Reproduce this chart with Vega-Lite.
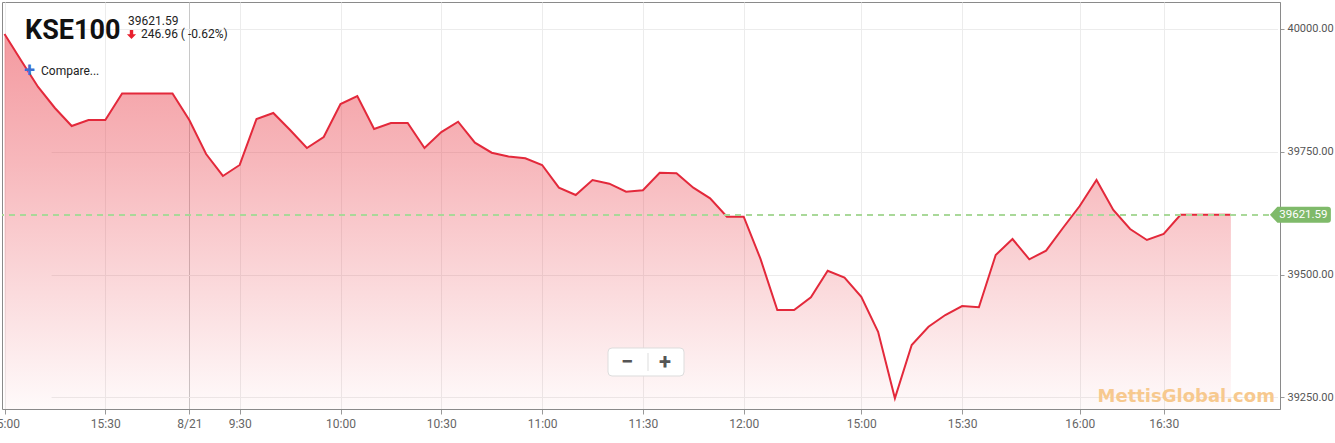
{
  "$schema": "https://vega.github.io/schema/vega-lite/v6.json",
  "width": 1278,
  "height": 407,
  "autosize": {"type": "none"},
  "padding": {"left": 2, "top": 2, "right": 55, "bottom": 34},
  "background": "white",
  "config": {
    "font": "Roboto",
    "view": {"stroke": "#8a8a8a", "strokeWidth": 1}
  },
  "datasets": {
    "kse": [
      {"time": "8/20 15:00", "index": 39989.4},
      {"time": "8/20 15:05", "index": 39935.0},
      {"time": "8/20 15:10", "index": 39881.6},
      {"time": "8/20 15:15", "index": 39838.9},
      {"time": "8/20 15:20", "index": 39802.3},
      {"time": "8/20 15:25", "index": 39814.5},
      {"time": "8/20 15:30", "index": 39814.5},
      {"time": "8/20 15:35", "index": 39868.55},
      {"time": "8/20 15:40", "index": 39868.55},
      {"time": "8/20 15:45", "index": 39868.55},
      {"time": "8/20 15:50", "index": 39868.55},
      {"time": "8/21 9:15", "index": 39814.5},
      {"time": "8/21 9:20", "index": 39745.3},
      {"time": "8/21 9:25", "index": 39700.6},
      {"time": "8/21 9:30", "index": 39723.0},
      {"time": "8/21 9:35", "index": 39816.5},
      {"time": "8/21 9:40", "index": 39828.7},
      {"time": "8/21 9:45", "index": 39794.1},
      {"time": "8/21 9:50", "index": 39757.5},
      {"time": "8/21 9:55", "index": 39779.9},
      {"time": "8/21 10:00", "index": 39847.0},
      {"time": "8/21 10:05", "index": 39863.3},
      {"time": "8/21 10:10", "index": 39796.2},
      {"time": "8/21 10:15", "index": 39808.4},
      {"time": "8/21 10:20", "index": 39808.4},
      {"time": "8/21 10:25", "index": 39757.5},
      {"time": "8/21 10:30", "index": 39790.0},
      {"time": "8/21 10:35", "index": 39811.0},
      {"time": "8/21 10:40", "index": 39768.3},
      {"time": "8/21 10:45", "index": 39747.9},
      {"time": "8/21 10:50", "index": 39740.2},
      {"time": "8/21 10:55", "index": 39736.6},
      {"time": "8/21 11:00", "index": 39722.9},
      {"time": "8/21 11:05", "index": 39676.8},
      {"time": "8/21 11:10", "index": 39661.9},
      {"time": "8/21 11:15", "index": 39692.4},
      {"time": "8/21 11:20", "index": 39684.9},
      {"time": "8/21 11:25", "index": 39668.6},
      {"time": "8/21 11:30", "index": 39671.5},
      {"time": "8/21 11:35", "index": 39707.3},
      {"time": "8/21 11:40", "index": 39706.0},
      {"time": "8/21 11:45", "index": 39676.8},
      {"time": "8/21 11:50", "index": 39655.2},
      {"time": "8/21 11:55", "index": 39617.8},
      {"time": "8/21 12:00", "index": 39617.8},
      {"time": "8/21 14:30", "index": 39532.0},
      {"time": "8/21 14:35", "index": 39427.9},
      {"time": "8/21 14:40", "index": 39427.9},
      {"time": "8/21 14:45", "index": 39453.8},
      {"time": "8/21 14:50", "index": 39507.9},
      {"time": "8/21 14:55", "index": 39493.7},
      {"time": "8/21 15:00", "index": 39455.0},
      {"time": "8/21 15:05", "index": 39383.8},
      {"time": "8/21 15:10", "index": 39248.3},
      {"time": "8/21 15:15", "index": 39356.8},
      {"time": "8/21 15:20", "index": 39394.0},
      {"time": "8/21 15:25", "index": 39417.8},
      {"time": "8/21 15:30", "index": 39436.1},
      {"time": "8/21 15:35", "index": 39433.5},
      {"time": "8/21 15:40", "index": 39540.0},
      {"time": "8/21 15:45", "index": 39572.4},
      {"time": "8/21 15:50", "index": 39531.1},
      {"time": "8/21 15:55", "index": 39548.6},
      {"time": "8/21 15:58", "index": 39594.8},
      {"time": "8/21 16:00", "index": 39639.5},
      {"time": "8/21 16:06", "index": 39692.4},
      {"time": "8/21 16:12", "index": 39631.4},
      {"time": "8/21 16:18", "index": 39592.8},
      {"time": "8/21 16:24", "index": 39570.4},
      {"time": "8/21 16:30", "index": 39582.6},
      {"time": "8/21 16:35", "index": 39621.59},
      {"time": "8/21 16:40", "index": 39621.59},
      {"time": "8/21 16:45", "index": 39621.59},
      {"time": "8/21 16:50", "index": 39621.59}
    ]
  },
  "data": {"name": "kse"},
  "layer": [
    {
      "mark": {
        "type": "area",
        "fill": {
          "gradient": "linear",
          "x1": 0, "y1": 0, "x2": 0, "y2": 1,
          "stops": [
            {"offset": 0, "color": "rgba(232,48,60,0.49)"},
            {"offset": 0.35, "color": "rgba(232,48,60,0.34)"},
            {"offset": 0.7, "color": "rgba(232,48,60,0.17)"},
            {"offset": 1, "color": "rgba(232,48,60,0.025)"}
          ]
        },
        "fillOpacity": 1
      },
      "encoding": {
        "x": {
          "field": "time",
          "type": "ordinal",
          "sort": null,
          "scale": {"type": "point", "range": [2.5, 1228.9], "padding": 0},
          "axis": {
            "orient": "bottom",
            "title": null,
            "values": ["8/20 15:00", "8/20 15:30", "8/21 9:15", "8/21 9:30", "8/21 10:00", "8/21 10:30", "8/21 11:00", "8/21 11:30", "8/21 12:00", "8/21 15:00", "8/21 15:30", "8/21 16:00", "8/21 16:30"],
            "labelExpr": "datum.value == '8/21 9:15' ? '8/21' : substring(datum.value, indexof(datum.value, ' ') + 1)",
            "labelAngle": 0,
            "labelFontSize": 12,
            "labelColor": "#666666",
            "labelPadding": 4,
            "labelFlush": false,
            "labelOverlap": false,
            "tickSize": 5,
            "tickColor": "#999999",
            "domainColor": "#8a8a8a",
            "grid": true,
            "gridColor": {"condition": {"test": "datum.value == '8/21 9:15'", "value": "#c8c8c8"}, "value": "#ececec"}
          }
        },
        "y": {
          "field": "index",
          "type": "quantitative",
          "scale": {"domain": [39226.6, 40054.5], "nice": false, "zero": false},
          "axis": {
            "orient": "right",
            "title": null,
            "values": [39250, 39500, 39750, 40000],
            "format": ".2f",
            "labelFontSize": 11,
            "labelColor": "#555555",
            "labelPadding": 3,
            "tickSize": 4,
            "tickColor": "#999999",
            "domainColor": "#8a8a8a",
            "grid": true,
            "gridColor": "#ececec"
          }
        },
        "y2": {"datum": 39226.6}
      }
    },
    {
      "mark": {"type": "line", "color": "#e3293b", "strokeWidth": 2},
      "encoding": {
        "x": {"field": "time", "type": "ordinal", "sort": null},
        "y": {"field": "index", "type": "quantitative"}
      }
    },
    {
      "mark": {"type": "rule", "color": "#a9d89a", "strokeDash": [6, 5], "strokeWidth": 1},
      "encoding": {"y": {"datum": 39621.59}}
    },
    {
      "data": {"values": [{"label": "KSE100"}]},
      "mark": {"type": "text", "align": "left", "baseline": "alphabetic", "dx": 20.5, "dy": 10.5, "fontSize": 27, "fontWeight": "bold", "color": "#111111"},
      "encoding": {"x": {"datum": "8/20 15:00"}, "y": {"datum": 40000}, "text": {"field": "label"}}
    },
    {
      "data": {"values": [{"label": "39621.59"}]},
      "mark": {"type": "text", "align": "left", "baseline": "alphabetic", "dx": 123.5, "dy": -3.8, "fontSize": 12, "color": "#222222"},
      "encoding": {"x": {"datum": "8/20 15:00"}, "y": {"datum": 40000}, "text": {"field": "label"}}
    },
    {
      "data": {"values": [{"label": "246.96 ( -0.62%)"}]},
      "mark": {"type": "text", "align": "left", "baseline": "alphabetic", "dx": 136.5, "dy": 9.7, "fontSize": 12, "color": "#222222"},
      "encoding": {"x": {"datum": "8/20 15:00"}, "y": {"datum": 40000}, "text": {"field": "label"}}
    },
    {
      "data": {"values": [{"label": "down"}]},
      "mark": {"type": "point", "filled": true, "size": 4, "color": "#e8202e", "opacity": 1, "strokeWidth": 0,
        "shape": "M125.3,1.2 L128.7,1.2 L128.7,5.4 L131.6,5.4 L127,10.2 L122.4,5.4 L125.3,5.4 Z"},
      "encoding": {"x": {"datum": "8/20 15:00"}, "y": {"datum": 40000}}
    },
    {
      "data": {"values": [{"label": "+"}]},
      "mark": {"type": "text", "align": "center", "baseline": "middle", "dx": 25, "dy": 42.2, "fontSize": 20, "fontWeight": "bold", "color": "#3d6fcf"},
      "encoding": {"x": {"datum": "8/20 15:00"}, "y": {"datum": 40000}, "text": {"field": "label"}}
    },
    {
      "data": {"values": [{"label": "Compare..."}]},
      "mark": {"type": "text", "align": "left", "baseline": "middle", "dx": 36.5, "dy": 42.2, "fontSize": 12, "color": "#222222"},
      "encoding": {"x": {"datum": "8/20 15:00"}, "y": {"datum": 40000}, "text": {"field": "label"}}
    },
    {
      "data": {"values": [{"label": "zoom"}]},
      "mark": {"type": "point", "filled": false, "size": 4, "fill": "#ffffff", "fillOpacity": 1, "stroke": "#dddddd", "strokeWidth": 1, "opacity": 1,
        "shape": "M607.5,319.2 L675.5,319.2 Q679.5,319.2 679.5,323.2 L679.5,343.2 Q679.5,347.2 675.5,347.2 L607.5,347.2 Q603.5,347.2 603.5,343.2 L603.5,323.2 Q603.5,319.2 607.5,319.2 Z M643.5,324.2 L643.5,342.2"},
      "encoding": {"x": {"datum": "8/20 15:00"}, "y": {"datum": 40000}}
    },
    {
      "data": {"values": [{"label": "−"}]},
      "mark": {"type": "text", "align": "center", "baseline": "middle", "dx": 622.5, "dy": 333.2, "fontSize": 22, "fontWeight": "bold", "color": "#555555"},
      "encoding": {"x": {"datum": "8/20 15:00"}, "y": {"datum": 40000}, "text": {"field": "label"}}
    },
    {
      "data": {"values": [{"label": "+"}]},
      "mark": {"type": "text", "align": "center", "baseline": "middle", "dx": 660.5, "dy": 333.2, "fontSize": 22, "fontWeight": "bold", "color": "#555555"},
      "encoding": {"x": {"datum": "8/20 15:00"}, "y": {"datum": 40000}, "text": {"field": "label"}}
    },
    {
      "data": {"values": [{"label": "MettisGlobal.com"}]},
      "mark": {"type": "text", "align": "right", "baseline": "middle", "dx": 44, "dy": 0, "font": "DejaVu Sans", "fontSize": 18, "fontWeight": "bold", "color": "#f7c98e"},
      "encoding": {"x": {"datum": "8/21 16:50"}, "y": {"datum": 39250}, "text": {"field": "label"}}
    },
    {
      "data": {"values": [{"label": "last"}]},
      "mark": {"type": "point", "filled": true, "size": 4, "color": "#7fba6a", "opacity": 1, "strokeWidth": 0,
        "shape": "M39,0 L46.5,-8 L97,-8 Q100,-8 100,-5 L100,5 Q100,8 97,8 L46.5,8 Z"},
      "encoding": {"x": {"datum": "8/21 16:50"}, "y": {"datum": 39621.59}}
    },
    {
      "data": {"values": [{"label": "39621.59"}]},
      "mark": {"type": "text", "align": "center", "baseline": "middle", "dx": 72.5, "dy": 0.5, "fontSize": 11.5, "color": "#ffffff"},
      "encoding": {"x": {"datum": "8/21 16:50"}, "y": {"datum": 39621.59}, "text": {"field": "label"}}
    }
  ]
}
